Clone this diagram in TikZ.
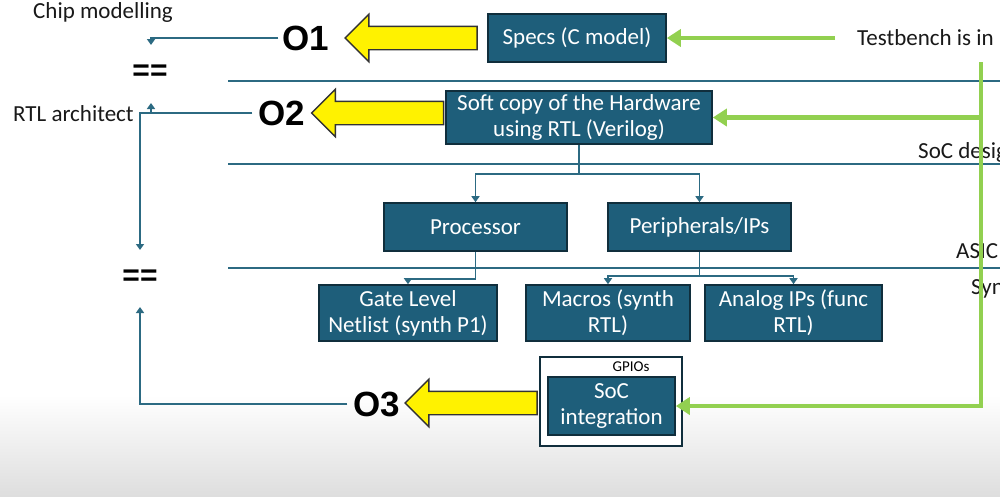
\documentclass[tikz,border=0pt]{standalone}
\usepackage{fontspec}
\setmainfont{Carlito}
\newfontfamily\headfont{Liberation Sans}
\usetikzlibrary{arrows.meta,positioning,shapes.arrows}
\definecolor{boxfill}{RGB}{30,94,122}
\definecolor{boxline}{RGB}{16,46,60}
\definecolor{lncol}{RGB}{44,106,130}
\definecolor{tbgreen}{RGB}{146,208,80}

\begin{document}
\begin{tikzpicture}[
    x=1pt, y=-1pt,
    font=\fontsize{23}{26}\selectfont,
    box/.style={rectangle, draw=boxline, line width=1.6pt, fill=boxfill, text=white,
                align=center, inner sep=2pt},
    gpiobox/.style={rectangle, draw=boxline, line width=1.6pt, fill=white},
    lbl/.style={anchor=base west, inner sep=0pt, text=black!90},
    obj/.style={font=\headfont\bfseries\fontsize{35}{35}\selectfont, inner sep=0pt},
    eqs/.style={font=\headfont\bfseries\fontsize{30}{30}\selectfont, inner sep=0pt},
    yarrow/.style={single arrow, shape border rotate=180, draw=black!80, line width=1.4pt,
                   fill=yellow, minimum height=132pt, inner sep=11pt,
                   single arrow head extend=12pt},
    ln/.style={draw=lncol, line width=1.7pt},
    arr/.style={ln, -{Triangle[length=6pt, width=8pt]}},
    grn/.style={draw=tbgreen, line width=4.5pt, -{Triangle[length=14pt, width=17pt]}}
]
\useasboundingbox (0,0) rectangle (1000,496);
\clip (0,0) rectangle (1000,496);

% ---- Background ----
\fill[white] (0,0) rectangle (1000,496);
\shade[top color=white, bottom color=black!13] (0,395) rectangle (1000,496);

% ---- Level separators ----
\draw[ln] (228,81) -- (1000,81);
\draw[ln] (228,164) -- (1000,164);
\draw[ln] (228,268) -- (1000,268);

% ---- Side labels ----
\node[lbl] (chipmod) at (33,18) {Chip modelling};
\node[lbl] (rtlarch) at (13,121) {RTL architect};
\node[lbl] (tbtext) at (857,45) {Testbench is in};
\node[lbl] (socdes) at (918,158) {SoC design};
\node[lbl] (asic) at (956,258) {ASIC};
\node[lbl] (syn) at (971,294) {Synthesis};
\node[eqs] (eqtop) at (150,73) {==};
\node[eqs] (eqbot) at (140,278) {==};

% ---- Boxes ----
\node[box, minimum width=178pt, minimum height=48pt] (specs) at (577,38) {Specs (C model)};
\node[box, minimum width=266pt, minimum height=53pt] (softcopy) at (579,117.5)
    {Soft copy of the Hardware\\using RTL (Verilog)};
\node[box, minimum width=183pt, minimum height=48pt] (proc) at (475.5,227) {Processor};
\node[box, minimum width=183pt, minimum height=48pt] (periph) at (699.5,227) {Peripherals/IPs};
\node[box, minimum width=178pt, minimum height=56pt] (gate) at (408,313)
    {Gate Level\\Netlist (synth P1)};
\node[box, minimum width=164pt, minimum height=56pt] (macros) at (608,313)
    {Macros (synth\\RTL)};
\node[box, minimum width=177pt, minimum height=56pt] (analog) at (793.5,313)
    {Analog IPs (func\\RTL)};
\node[gpiobox, minimum width=142pt, minimum height=89pt] (gpio) at (611,401.5) {};
\node[font=\fontsize{15}{15}\selectfont, inner sep=0pt] (gpiotxt) at (631,367) {GPIOs};
\node[box, minimum width=127pt, minimum height=58pt] (soc) at (611.5,406)
    {SoC\\integration};

% ---- Outputs ----
\node[yarrow] (y1) at (417,38) {};
\node[yarrow] (y2) at (383.5,113) {};
\node[yarrow] (y3) at (477,403) {};
\node[obj] (o1) at (306,38) {O1};
\node[obj] (o2) at (282,113) {O2};
\node[obj] (o3) at (377,404) {O3};

\coordinate (c1) at (151,45);
\coordinate (c2) at (140,250);
\coordinate (c2a) at (151,113);
\coordinate (c2b) at (151,103);
\coordinate (c3) at (140,307);
\draw[arr] ([xshift=-4pt]o1.west) -| (c1);
\draw[arr] ([xshift=-6pt]o2.west) -| (c2);
\draw[arr] (c2a) -- (c2b);
\draw[arr] ([xshift=-6pt]o3.west) -| (c3);

% ---- Hierarchy ----
\draw[arr] (softcopy.south) -- ++(0,29) -| (proc.north);
\draw[arr] (softcopy.south) -- ++(0,29) -| (periph.north);
\draw[arr] (proc.south) -- ++(0,27) -| (gate.north);
\draw[arr] (periph.south) -- ++(0,24) -| (macros.north);
\draw[arr] (periph.south) -- ++(0,24) -| (analog.north);

% ---- Testbench ----
\coordinate (gtop) at (981,62);
\draw[grn] ([xshift=-22pt]tbtext.west |- specs.east) -- (specs.east);
\draw[grn] (gtop) |- (soc.east);
\draw[grn] (gtop |- softcopy.east) -- (softcopy.east);

\end{tikzpicture}
\end{document}
